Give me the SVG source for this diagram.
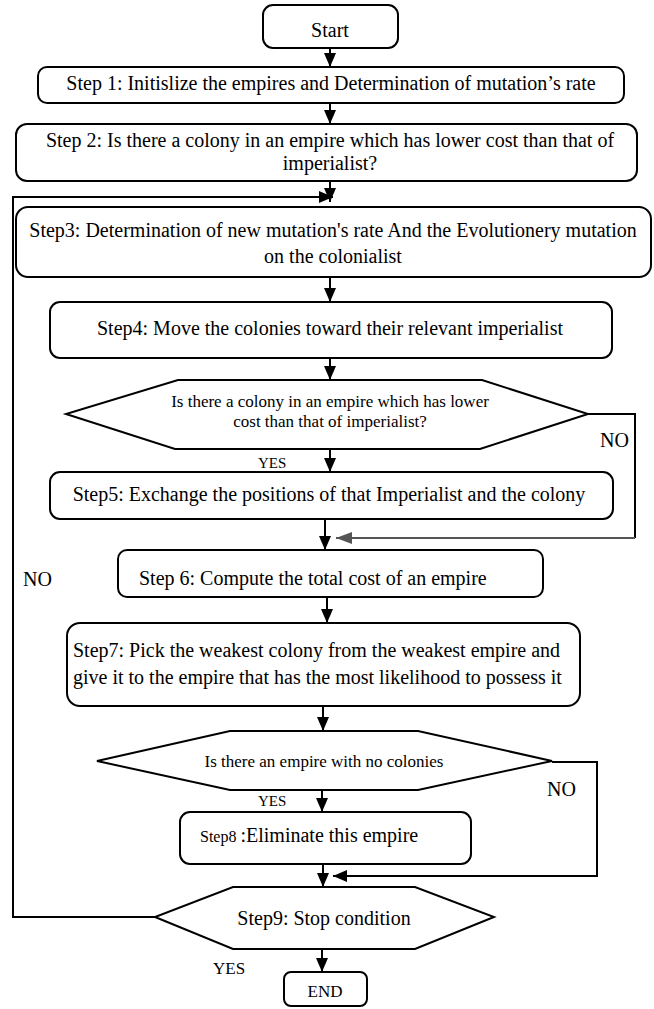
<svg xmlns="http://www.w3.org/2000/svg" width="654" height="1009" viewBox="0 0 654 1009">
<defs>
<marker id="ah" markerUnits="userSpaceOnUse" markerWidth="14" markerHeight="12" refX="14" refY="6" orient="auto"><path d="M0,0 L14,6 L0,12 z" fill="#000"/></marker>
<marker id="ahg" markerUnits="userSpaceOnUse" markerWidth="16" markerHeight="12" refX="16" refY="6" orient="auto"><path d="M0,0 L16,6 L0,12 z" fill="#555"/></marker>
<style>
.box{fill:#fff;stroke:#000;stroke-width:2}
.t{font-family:"Liberation Serif","Times New Roman",serif;font-size:20px;fill:#000}
.s{font-family:"Liberation Serif","Times New Roman",serif;font-size:17px;fill:#000}
.y{font-family:"Liberation Serif","Times New Roman",serif;font-size:15px;fill:#000}
.c{text-anchor:middle}
.ln{fill:none;stroke:#000;stroke-width:2}
.lg{fill:none;stroke:#555;stroke-width:2}
</style>
</defs>
<rect width="654" height="1009" fill="#fff"/>
<g id="connectors">
<path class="ln" d="M330,48 V67" marker-end="url(#ah)"/>
<path class="ln" d="M330,103 V124" marker-end="url(#ah)"/>
<path class="ln" d="M330,181 V202" marker-end="url(#ah)"/>
<path class="ln" d="M330,277 V302" marker-end="url(#ah)"/>
<path class="ln" d="M330,358 V380" marker-end="url(#ah)"/>
<path class="ln" d="M330,449 V472" marker-end="url(#ah)"/>
<path class="ln" d="M325,519 V550" marker-end="url(#ah)"/>
<path class="ln" d="M327,597 V623" marker-end="url(#ah)"/>
<path class="ln" d="M323,706 V731" marker-end="url(#ah)"/>
<path class="ln" d="M322,790 V812" marker-end="url(#ah)"/>
<path class="ln" d="M323,864 V887" marker-end="url(#ah)"/>
<path class="ln" d="M322,949 V972" marker-end="url(#ah)"/>
<path class="ln" d="M588,414 H635 V538"/>
<path class="lg" d="M635,538 H336" marker-end="url(#ahg)"/>
<path class="ln" d="M552,762 H597 V876 H333" marker-end="url(#ah)"/>
<path class="ln" d="M155,917 H13 V197 H333" marker-end="url(#ah)"/>
<text class="t" x="600" y="447">NO</text>
<text class="y" x="258" y="468">YES</text>
<text class="t" x="23" y="586">NO</text>
<text class="t" x="547" y="796">NO</text>
<text class="y" x="258" y="806">YES</text>
<text class="s" x="213" y="974">YES</text>
</g>
<g id="start">
<rect class="box" x="263" y="5" width="135" height="43" rx="10"/>
<text class="t c" x="330" y="37">Start</text>
</g>
<g id="step1">
<rect class="box" x="38" y="67" width="586" height="36" rx="9"/>
<text class="t c" x="331" y="90">Step 1: Initislize the empires and Determination of mutation’s rate</text>
</g>
<g id="step2">
<rect class="box" x="16" y="124" width="621" height="57" rx="11"/>
<text class="t c" x="330" y="147">Step 2: Is there a colony in an empire which has lower cost than that of</text>
<text class="t c" x="330" y="170">imperialist?</text>
</g>
<g id="step3">
<rect class="box" x="16" y="207" width="635" height="70" rx="12"/>
<text class="t c" x="333" y="237">Step3: Determination of new mutation's rate And the Evolutionery mutation</text>
<text class="t c" x="333" y="263">on the colonialist</text>
</g>
<g id="step4">
<rect class="box" x="50" y="302" width="562" height="56" rx="10"/>
<text class="t c" x="330" y="335">Step4: Move the colonies toward their relevant imperialist</text>
</g>
<g id="decision1">
<polygon class="box" points="178,380 482,380 588,414 480,449 175,449 66,414"/>
<text class="s c" x="330" y="407">Is there a colony in an empire which has lower</text>
<text class="s c" x="330" y="427">cost than that of imperialist?</text>
</g>
<g id="step5">
<rect class="box" x="50" y="472" width="563" height="47" rx="10"/>
<text class="t c" x="329" y="501">Step5: Exchange the positions of that Imperialist and the colony</text>
</g>
<g id="step6">
<rect class="box" x="118" y="550" width="425" height="47" rx="9"/>
<text class="t" x="139" y="585">Step 6: Compute the total cost of an empire</text>
</g>
<g id="step7">
<rect class="box" x="67" y="623" width="513" height="83" rx="13"/>
<text class="t" x="73" y="657">Step7: Pick the weakest colony from the weakest empire and</text>
<text class="t" x="73" y="684">give it to the empire that has the most likelihood to possess it</text>
</g>
<g id="decision2">
<polygon class="box" points="230,731 418,731 552,761 418,790 230,790 97,761"/>
<text class="s c" x="324" y="767">Is there an empire with no colonies</text>
</g>
<g id="step8">
<rect class="box" x="180" y="812" width="291" height="52" rx="10"/>
<text class="t" x="200" y="842"><tspan font-size="16">Step8 </tspan>:Eliminate this empire</text>
</g>
<g id="step9">
<polygon class="box" points="233,887 415,887 494,917 415,949 233,949 155,917"/>
<text class="t c" x="324" y="925">Step9: Stop condition</text>
</g>
<g id="end">
<rect class="box" x="284" y="972" width="83" height="34" rx="7"/>
<text class="s c" x="325" y="997">END</text>
</g>
</svg>
